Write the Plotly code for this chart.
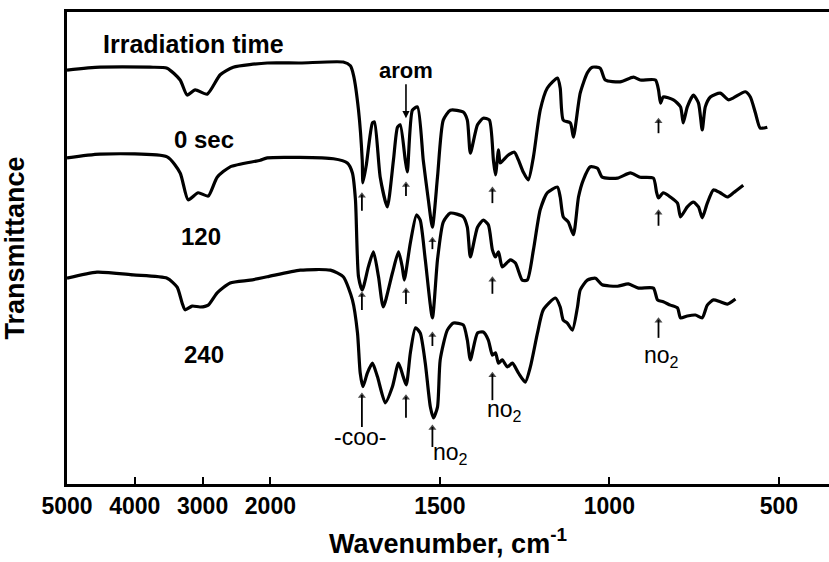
import numpy as np
import plotly.graph_objects as go

# ---------------- data ----------------
# wavenumber (cm-1) and transmittance (arbitrary %, spectra stacked)
wn_0 = [5000, 4513, 3774, 3523, 3331, 3228, 3109, 2932, 2740, 2548, 2046, 1912, 1785, 1764, 1755,
        1740, 1729, 1727, 1717, 1699, 1693, 1676, 1655, 1637, 1625, 1617, 1602, 1596, 1581, 1566,
        1549, 1534, 1522, 1507, 1490, 1469, 1431, 1419, 1410, 1389, 1372, 1354, 1342, 1336, 1327,
        1322, 1313, 1298, 1280, 1268, 1254, 1239, 1224, 1204, 1183, 1153, 1145, 1136, 1115, 1106,
        1086, 1065, 1050, 1027, 1012, 968, 929, 909, 864, 855, 849, 841, 811, 790, 782, 770, 752,
        737, 726, 717, 702, 673, 649, 634, 599, 584, 569, 555, 534]
tr_0 = [87.7, 88.3, 88.3, 88.1, 85.6, 82.4, 83.5, 82.6, 86.7, 88.3, 89.2, 89.2, 89.4, 88.6, 86.7,
        79.2, 68.6, 63.8, 67.6, 76.5, 76.7, 65.0, 58.7, 68.6, 75.6, 76.1, 68.6, 66.1, 79.2, 79.9,
        68.6, 60.2, 54.4, 65.0, 77.1, 79.2, 78.8, 77.1, 70.1, 76.1, 77.5, 77.1, 68.6, 65.5, 70.8,
        68.0, 68.6, 69.7, 70.3, 68.6, 66.1, 64.4, 69.3, 79.2, 83.9, 86.0, 83.9, 77.1, 76.5, 73.5,
        82.8, 87.1, 88.3, 88.1, 85.6, 85.2, 86.2, 85.6, 85.6, 83.5, 80.7, 82.0, 81.4, 79.9, 76.5,
        79.9, 82.4, 80.7, 75.0, 79.9, 82.0, 82.8, 81.4, 81.8, 83.1, 82.0, 78.6, 75.4, 75.6]

wn_120 = [5000, 4513, 3523, 3331, 3213, 3065, 2917, 2785, 2593, 2149, 2046, 1814, 1773, 1758, 1749,
          1740, 1729, 1711, 1696, 1681, 1667, 1640, 1622, 1611, 1605, 1587, 1569, 1558, 1543, 1522,
          1507, 1490, 1469, 1431, 1419, 1410, 1389, 1372, 1357, 1345, 1336, 1327, 1316, 1292, 1277,
          1257, 1242, 1224, 1204, 1183, 1153, 1145, 1136, 1121, 1106, 1091, 1077, 1056, 1035, 1021,
          976, 938, 909, 870, 861, 855, 841, 820, 799, 790, 770, 752, 737, 726, 711, 693, 673, 652,
          634, 605]
tr_120 = [69.1, 69.9, 69.3, 65.9, 60.2, 61.7, 61.0, 65.0, 67.2, 68.6, 69.1, 68.9, 68.0, 65.9, 60.2,
          43.9, 41.1, 46.0, 49.2, 43.9, 37.5, 44.7, 49.2, 46.0, 43.2, 51.1, 57.0, 55.9, 47.5, 35.2,
          47.5, 55.5, 57.4, 56.6, 54.4, 48.1, 54.4, 55.9, 54.9, 49.6, 48.1, 49.2, 46.0, 47.5, 46.8,
          43.2, 43.2, 49.6, 58.1, 61.7, 62.9, 60.8, 56.6, 55.5, 52.8, 60.8, 64.4, 67.2, 66.9, 65.0,
          64.8, 65.9, 65.0, 64.8, 61.9, 60.6, 61.7, 60.8, 59.5, 56.6, 58.7, 59.7, 58.7, 56.4, 59.5,
          62.3, 61.7, 60.8, 61.7, 63.3]

wn_240 = [5000, 4557, 4025, 3523, 3375, 3301, 3257, 3154, 3036, 2917, 2785, 2593, 2297, 2046, 1912,
          1823, 1785, 1758, 1743, 1735, 1727, 1714, 1699, 1684, 1661, 1640, 1622, 1608, 1599, 1587,
          1572, 1558, 1543, 1528, 1519, 1507, 1499, 1478, 1460, 1431, 1419, 1410, 1389, 1372, 1357,
          1345, 1336, 1327, 1316, 1301, 1286, 1268, 1248, 1233, 1212, 1195, 1159, 1145, 1136, 1124,
          1109, 1094, 1086, 1065, 1041, 1021, 976, 944, 914, 870, 858, 841, 820, 799, 790, 770, 746,
          726, 711, 693, 673, 652, 628]
tr_240 = [43.6, 44.9, 44.3, 43.6, 41.7, 38.3, 36.9, 37.7, 37.5, 37.9, 40.5, 42.6, 43.2, 43.9, 45.3,
          45.3, 43.9, 39.0, 32.0, 23.5, 20.6, 23.5, 25.6, 22.7, 17.2, 20.6, 25.6, 22.7, 21.0, 27.8,
          33.1, 32.0, 25.6, 16.3, 14.0, 16.3, 26.3, 32.6, 34.1, 33.7, 30.5, 26.3, 32.0, 32.2, 30.5,
          27.3, 27.8, 25.6, 26.3, 24.8, 25.6, 23.5, 21.6, 24.8, 32.0, 36.9, 39.4, 37.5, 34.7, 34.1,
          32.6, 37.5, 41.1, 43.2, 43.6, 42.2, 41.9, 42.4, 41.5, 41.5, 39.0, 38.6, 37.9, 37.3, 35.2,
          35.6, 35.8, 35.2, 37.9, 39.0, 38.6, 38.1, 39.2]

tick_wn = [5000, 4000, 3000, 2000, 1500, 1000, 500]
tick_labels = ["5000", "4000", "3000", "2000", "1500", "1000", "500"]

# marked bands (cm-1) and the arrow tip level on each spectrum
band_wn = [1730, 1600, 1522, 1345, 855]
mark_tr_0 = [61.7, 64.0, 52.3, 62.9, 77.5]
mark_tr_120 = [40.7, 41.5, 32.2, 43.9, 58.1]
mark_tr_240 = [19.3, 18.9, 12.5, 23.7, 35.2]


# ---------------- split wavenumber scale (5000-2000 compressed x5) ----------------
def wscale(w):
    w = np.asarray(w, dtype=float)
    return np.where(w >= 2000, (5000 - w) * 0.2, 600 + (2000 - w))


PX_PER_T = 4.72  # vertical pixels per transmittance unit (472 px plot height / 100)
FONT = "Liberation Sans, Arial, sans-serif"
line = dict(color="black", width=3.2, shape="spline", smoothing=0.6)

fig = go.Figure()
for name, wn, tr in [("0 sec", wn_0, tr_0), ("120 sec", wn_120, tr_120), ("240 sec", wn_240, tr_240)]:
    fig.add_trace(go.Scatter(x=wscale(wn), y=tr, mode="lines", name=name, line=line,
                             hoverinfo="skip"))

# upward band-marker arrows (shaft + head) on all three spectra
lengths = [[18, 14, 12, 16, 15], [18, 16, 14, 17, 16], [34, 23, 22, 28, 20]]
sx, sy, hx, hy = [], [], [], []
for marks, lens in zip((mark_tr_0, mark_tr_120, mark_tr_240), lengths):
    for w, t, ln in zip(band_wn, marks, lens):
        u = float(wscale(w))
        sx += [u, u, None]
        sy += [t - 2.0 / PX_PER_T, t - ln / PX_PER_T, None]
        hx.append(u)
        hy.append(t - 3.0 / PX_PER_T)
fig.add_trace(go.Scatter(x=sx, y=sy, mode="lines", line=dict(color="black", width=1.8),
                         hoverinfo="skip", name="band markers"))
fig.add_trace(go.Scatter(x=hx, y=hy, mode="markers", hoverinfo="skip", name="band markers",
                         marker=dict(symbol="triangle-up", size=[7] * len(hx), color="black",
                                     line=dict(width=0))))

ann = []
# spectrum labels
for txt, xw, yt in [("Irradiation time", 3140, 93.2), ("0 sec", 2980, 73.0),
                    ("120", 3020, 52.5), ("240", 2980, 27.5)]:
    ann.append(dict(x=float(wscale(xw)), y=yt, xref="x", yref="y", text=txt, showarrow=False,
                    font=dict(family=FONT, size=24 if txt != "Irradiation time" else 25,
                              color="black", weight="bold")))

# group labels
lab_font = dict(family=FONT, size=23, color="black")
for txt, xw, yt in [("-coo-", 1736, 10.0), ("no<sub>2</sub>", 1470, 6.4),
                    ("no<sub>2</sub>", 1310, 15.5), ("no<sub>2</sub>", 845, 27.0)]:
    ann.append(dict(x=float(wscale(xw)), y=yt, xref="x", yref="y", text=txt, showarrow=False,
                    font=lab_font))

# "arom" with downward arrow
ann.append(dict(x=float(wscale(1600)), y=77.5, xref="x", yref="y", text="arom", showarrow=True,
                ax=0, ay=-48, arrowhead=2, arrowsize=0.9, arrowwidth=1.6, arrowcolor="black",
                font=dict(family=FONT, size=22, color="black", weight="bold")))

fig.update_layout(
    width=829, height=562, autosize=False,
    margin=dict(l=67, r=0, t=12, b=78),
    paper_bgcolor="white", plot_bgcolor="white",
    showlegend=False,
    annotations=ann,
    xaxis=dict(range=[0, 2248], tickmode="array", tickvals=wscale(tick_wn).tolist(),
               ticktext=tick_labels, ticks="inside", ticklen=7, tickwidth=2, tickcolor="black",
               showline=True, linecolor="black", linewidth=2.5, mirror=True,
               showgrid=False, zeroline=False,
               tickfont=dict(family=FONT, size=23, color="black", weight="bold"),
               title=dict(text="Wavenumber, cm<sup>-1</sup>", standoff=16,
                          font=dict(family=FONT, size=27, color="black", weight="bold"))),
    yaxis=dict(range=[0, 100], showline=True, linecolor="black", linewidth=2.5, mirror=False,
               ticks="", showticklabels=False, showgrid=False, zeroline=False,
               title=dict(text="Transmittance", standoff=33,
                          font=dict(family=FONT, size=27, color="black", weight="bold"))),
)

fig.write_html("out.html")
